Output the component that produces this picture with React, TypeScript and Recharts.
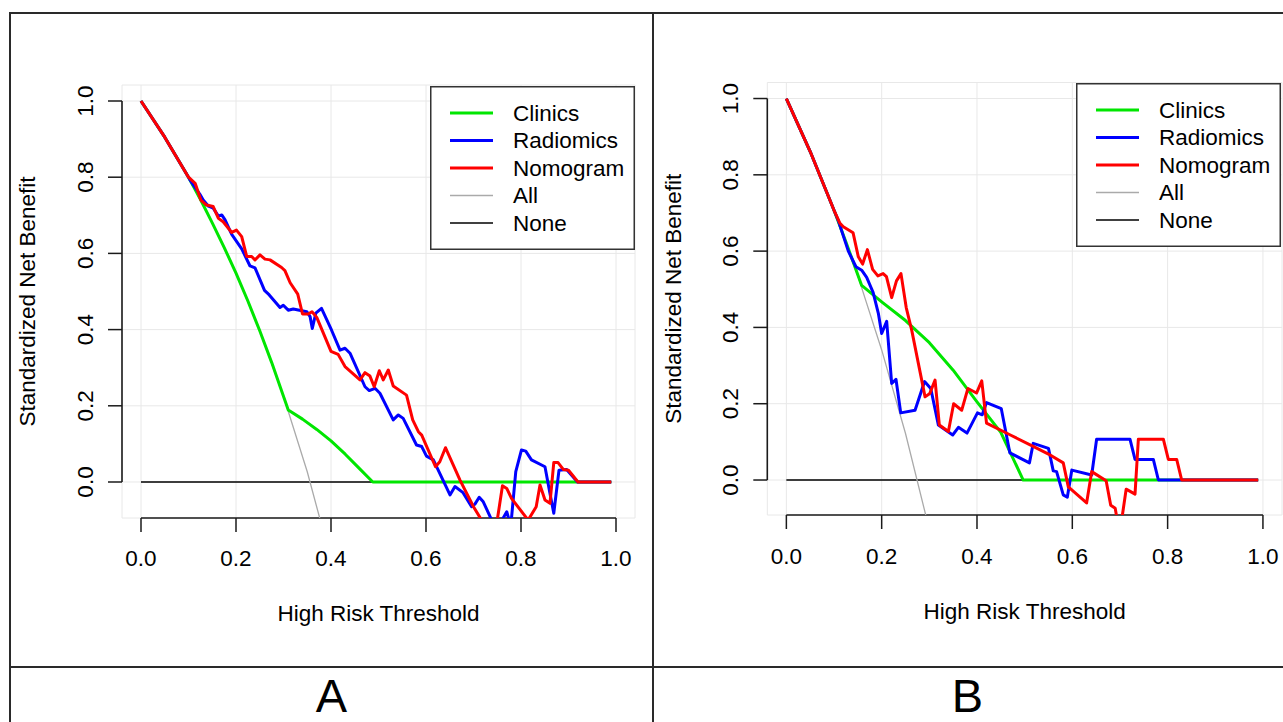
import React from "react";
import {
  CartesianGrid,
  Label,
  Legend,
  Line,
  LineChart,
  ReferenceLine,
  XAxis,
  YAxis,
} from "recharts";

type Pt = readonly [number, number];

const xTicks = [0, 0.2, 0.4, 0.6, 0.8, 1];
const yTicks = [0, 0.2, 0.4, 0.6, 0.8, 1];
const seriesNames = ["Clinics", "Radiomics", "Nomogram", "All", "None"];
const panelLabels = ["A", "B"];

// ---- panel A (threshold, standardized net benefit) ----
const allA: Pt[] = [
  [0, 1], [0.05, 0.905], [0.1, 0.8], [0.15, 0.68], [0.2, 0.548],
  [0.25, 0.397], [0.3, 0.225], [0.35, 0.027], [0.4, -0.205],
];
const noneA: Pt[] = [[0, 0], [0.99, 0]];
const clinicsA: Pt[] = [
  [0, 1], [0.05, 0.905], [0.1, 0.8], [0.125, 0.742], [0.15, 0.68],
  [0.175, 0.616], [0.2, 0.548], [0.225, 0.475], [0.25, 0.397], [0.275, 0.314],
  [0.31, 0.189], [0.34, 0.165], [0.37, 0.138], [0.4, 0.108], [0.43, 0.073],
  [0.46, 0.035], [0.488, 0], [0.99, 0],
];
const radiomicsA: Pt[] = [
  [0, 1], [0.05, 0.905], [0.1, 0.8], [0.103, 0.793], [0.124, 0.755],
  [0.131, 0.74], [0.142, 0.724], [0.152, 0.719], [0.163, 0.698], [0.17, 0.701],
  [0.177, 0.688], [0.191, 0.65], [0.212, 0.612], [0.2295, 0.567], [0.24, 0.562],
  [0.26, 0.503], [0.27, 0.491], [0.2926, 0.458], [0.2996, 0.464], [0.31, 0.451],
  [0.3206, 0.454], [0.349, 0.447], [0.356, 0.434], [0.3606, 0.403], [0.368, 0.443],
  [0.38, 0.456], [0.401, 0.399], [0.419, 0.346], [0.4295, 0.351], [0.44, 0.338],
  [0.4716, 0.25], [0.4806, 0.24], [0.4926, 0.246], [0.503, 0.233], [0.531, 0.163],
  [0.5417, 0.176], [0.552, 0.167], [0.58, 0.097], [0.591, 0.093], [0.601, 0.068],
  [0.6155, 0.058], [0.6505, -0.034], [0.661, -0.012], [0.678, -0.028], [0.696, -0.065],
  [0.703, -0.058], [0.712, -0.04], [0.7206, -0.052], [0.742, -0.11], [0.76, -0.1],
  [0.77, -0.078], [0.775, -0.1], [0.78, -0.095], [0.789, 0.027], [0.801, 0.084],
  [0.81, 0.081], [0.822, 0.058], [0.8505, 0.04], [0.861, -0.03], [0.869, -0.082],
  [0.88, 0.031], [0.896, 0.033], [0.919, 0], [0.99, 0],
];
const nomogramA: Pt[] = [
  [0, 1], [0.05, 0.905], [0.1, 0.8], [0.114, 0.784], [0.126, 0.74],
  [0.138, 0.727], [0.152, 0.723], [0.163, 0.692], [0.173, 0.683], [0.191, 0.655],
  [0.201, 0.661], [0.212, 0.644], [0.2225, 0.592], [0.233, 0.592], [0.24, 0.583],
  [0.2505, 0.596], [0.261, 0.585], [0.2716, 0.583], [0.296, 0.563], [0.303, 0.555],
  [0.314, 0.523], [0.33, 0.493], [0.34, 0.441], [0.352, 0.441], [0.36, 0.447],
  [0.37, 0.432], [0.4, 0.343], [0.415, 0.335], [0.4295, 0.303], [0.461, 0.268],
  [0.4716, 0.287], [0.482, 0.278], [0.491, 0.25], [0.5017, 0.292], [0.51, 0.268],
  [0.5206, 0.294], [0.531, 0.252], [0.559, 0.228], [0.572, 0.163], [0.584, 0.132],
  [0.591, 0.123], [0.62, 0.04], [0.629, 0.053], [0.641, 0.09], [0.6716, 0.005],
  [0.7, -0.065], [0.717, -0.1], [0.735, -0.13], [0.75, -0.1], [0.761, -0.01],
  [0.77, -0.017], [0.78, -0.043], [0.815, -0.1], [0.832, -0.065], [0.84, -0.008],
  [0.8505, -0.047], [0.861, -0.056], [0.869, 0.051], [0.878, 0.051], [0.889, 0.033],
  [0.9, 0.031], [0.92, 0], [0.99, 0],
];

// ---- panel B ----
const allB: Pt[] = [
  [0, 1], [0.05, 0.861], [0.1, 0.707], [0.15, 0.535], [0.2, 0.341],
  [0.25, 0.122], [0.3, -0.13],
];
const noneB: Pt[] = [[0, 0], [0.99, 0]];
const clinicsB: Pt[] = [
  [0, 1], [0.05, 0.861], [0.1, 0.707], [0.125, 0.624], [0.158, 0.51],
  [0.2, 0.467], [0.25, 0.418], [0.3, 0.36], [0.35, 0.288], [0.4, 0.205],
  [0.45, 0.125], [0.497, 0], [0.99, 0],
];
const radiomicsB: Pt[] = [
  [0, 1], [0.05, 0.861], [0.1, 0.707], [0.109, 0.68], [0.13, 0.6],
  [0.146, 0.559], [0.158, 0.55], [0.1685, 0.531], [0.182, 0.492], [0.193, 0.437],
  [0.2, 0.384], [0.2105, 0.416], [0.221, 0.253], [0.23, 0.264], [0.24, 0.176],
  [0.27, 0.183], [0.29, 0.258], [0.303, 0.24], [0.319, 0.144], [0.349, 0.118],
  [0.361, 0.138], [0.379, 0.123], [0.401, 0.176], [0.411, 0.171], [0.42, 0.203],
  [0.451, 0.187], [0.469, 0.071], [0.51, 0.045], [0.518, 0.096], [0.55, 0.083],
  [0.56, 0.024], [0.567, 0.022], [0.581, -0.039], [0.5895, -0.045], [0.599, 0.026],
  [0.6407, 0.013], [0.651, 0.107], [0.721, 0.107], [0.7316, 0.054], [0.77, 0.054],
  [0.7806, 0], [0.99, 0],
];
const nomogramB: Pt[] = [
  [0, 1], [0.05, 0.861], [0.1, 0.707], [0.1125, 0.673], [0.1195, 0.664],
  [0.14, 0.648], [0.151, 0.585], [0.16, 0.566], [0.17, 0.604], [0.181, 0.552],
  [0.192, 0.535], [0.203, 0.541], [0.21, 0.533], [0.221, 0.478], [0.231, 0.522],
  [0.2405, 0.541], [0.2515, 0.452], [0.263, 0.393], [0.291, 0.218], [0.301, 0.227],
  [0.312, 0.262], [0.321, 0.144], [0.34, 0.127], [0.351, 0.2], [0.368, 0.183],
  [0.381, 0.24], [0.399, 0.228], [0.41, 0.26], [0.42, 0.149], [0.47, 0.118],
  [0.52, 0.087], [0.55, 0.068], [0.581, 0.045], [0.5916, -0.018], [0.63, -0.06],
  [0.6407, 0.022], [0.671, -0.002], [0.6806, -0.066], [0.69, -0.074], [0.695, -0.11],
  [0.703, -0.11], [0.713, -0.024], [0.7316, -0.037], [0.7386, 0.107], [0.791, 0.107],
  [0.8015, 0.054], [0.819, 0.054], [0.8295, 0], [0.99, 0],
];

const FONT = '"Liberation Sans", Arial, Helvetica, sans-serif';
const FS = 22.5;
const AXIS = "#1a1a1a";
const CHART_H = 667;
const Y_AXIS_W = 60;
const X_AXIS_H = 60;

const seriesColors = ["#00e600", "#0000ff", "#ff0000", "#aaaaaa", "#000000"];
const seriesWidths = [3, 3, 3, 1.3, 1.6];

interface Series {
  readonly clinics: Pt[];
  readonly radiomics: Pt[];
  readonly nomogram: Pt[];
  readonly all: Pt[];
  readonly none: Pt[];
}

interface PanelSpec {
  readonly left: number;
  readonly width: number;
  readonly margin: { top: number; right: number; bottom: number; left: number };
  readonly yMin: number;
  readonly yMax: number;
  readonly tickMarginX: number;
  readonly xTitleY: number;
  readonly yTitleX: number;
  readonly legendLeft: number;
  readonly legendTop: number;
  readonly series: Series;
}

const panels: PanelSpec[] = [
  {
    left: 0,
    width: 653,
    margin: { top: 85, right: 18, bottom: 89, left: 62 },
    yMin: -0.0945,
    yMax: 1.042,
    tickMarginX: 18,
    xTitleY: 621,
    yTitleX: 35,
    legendLeft: 430,
    legendTop: 86,
    series: { clinics: clinicsA, radiomics: radiomicsA, nomogram: nomogramA, all: allA, none: noneA },
  },
  {
    left: 653,
    width: 630,
    margin: { top: 82.5, right: 1, bottom: 92, left: 54.3 },
    yMin: -0.0917,
    yMax: 1.042,
    tickMarginX: 19,
    xTitleY: 619,
    yTitleX: 28,
    legendLeft: 423,
    legendTop: 83,
    series: { clinics: clinicsB, radiomics: radiomicsB, nomogram: nomogramB, all: allB, none: noneB },
  },
];

const toData = (pts: Pt[]) => pts.map(([x, y]) => ({ x, y }));
const fmt = (v: number) => v.toFixed(1);

function YTick(props: any) {
  const { x, y, payload } = props;
  return (
    <text
      x={x}
      y={y}
      transform={`rotate(-90 ${x} ${y})`}
      textAnchor="middle"
      fill="#000"
      fontSize={FS}
      fontFamily={FONT}
    >
      {fmt(Number(payload.value))}
    </text>
  );
}

function LegendBox() {
  return (
    <svg width={205} height={164} style={{ display: "block", background: "#fff" }}>
      <rect x={0.75} y={0.75} width={203.5} height={162.5} fill="#fff" stroke="#333" strokeWidth={1.5} />
      {seriesNames.map((name, i) => {
        const cy = 27 + i * 27.5;
        return (
          <g key={name}>
            <line x1={20} x2={63} y1={cy} y2={cy} stroke={seriesColors[i]} strokeWidth={seriesWidths[i]} />
            <text x={83} y={cy} dominantBaseline="central" fontSize={FS} fontFamily={FONT} fill="#000">
              {name}
            </text>
          </g>
        );
      })}
    </svg>
  );
}

function Panel({ spec }: { spec: PanelSpec }) {
  const { series } = spec;
  const lines: [string, Pt[], number][] = [
    ["None", series.none, 4],
    ["All", series.all, 3],
    ["Clinics", series.clinics, 0],
    ["Radiomics", series.radiomics, 1],
    ["Nomogram", series.nomogram, 2],
  ];
  return (
    <div style={{ position: "absolute", left: spec.left, top: 0 }}>
      <LineChart width={spec.width} height={CHART_H} margin={spec.margin}>
        <CartesianGrid stroke="#e8e8e8" strokeWidth={1} />
        <XAxis
          type="number"
          dataKey="x"
          domain={[-0.04, 1.04]}
          allowDataOverflow
          ticks={xTicks}
          interval={0}
          tickFormatter={fmt}
          axisLine={false}
          stroke={AXIS}
          tickLine={{ stroke: AXIS, strokeWidth: 1.5 }}
          tickSize={14}
          tickMargin={spec.tickMarginX}
          height={X_AXIS_H}
          tick={{ fill: "#000", fontSize: FS, fontFamily: FONT }}
          label={
            <Label
              content={(p: any) => {
                const vb = p.viewBox ?? {};
                const cx = (vb.x ?? 0) + (vb.width ?? 0) / 2;
                return (
                  <text x={cx} y={spec.xTitleY} textAnchor="middle" fontSize={FS} fontFamily={FONT} fill="#000">
                    High Risk Threshold
                  </text>
                );
              }}
            />
          }
        />
        <YAxis
          type="number"
          domain={[spec.yMin, spec.yMax]}
          allowDataOverflow
          ticks={yTicks}
          interval={0}
          axisLine={false}
          stroke={AXIS}
          tickLine={{ stroke: AXIS, strokeWidth: 1.5 }}
          tickSize={14}
          tickMargin={15}
          width={Y_AXIS_W}
          tick={<YTick />}
          label={
            <Label
              content={(p: any) => {
                const vb = p.viewBox ?? {};
                const cy = (vb.y ?? 0) + (vb.height ?? 0) / 2;
                const cx = spec.yTitleX;
                return (
                  <text
                    x={cx}
                    y={cy}
                    transform={`rotate(-90 ${cx} ${cy})`}
                    textAnchor="middle"
                    fontSize={FS}
                    fontFamily={FONT}
                    fill="#000"
                  >
                    Standardized Net Benefit
                  </text>
                );
              }}
            />
          }
        />
        <ReferenceLine
          segment={[{ x: 0, y: spec.yMin }, { x: 1, y: spec.yMin }]}
          stroke={AXIS}
          strokeWidth={1.6}
          ifOverflow="visible"
        />
        <ReferenceLine
          segment={[{ x: -0.04, y: 0 }, { x: -0.04, y: 1 }]}
          stroke={AXIS}
          strokeWidth={1.6}
          ifOverflow="visible"
        />
        {lines.map(([name, pts, ci]) => (
          <Line
            key={name}
            name={name}
            data={toData(pts)}
            dataKey="y"
            type="linear"
            stroke={seriesColors[ci]}
            strokeWidth={seriesWidths[ci]}
            strokeLinejoin="round"
            dot={false}
            activeDot={false}
            isAnimationActive={false}
          />
        ))}
        <Legend
          layout="horizontal"
          verticalAlign="middle"
          align="center"
          content={() => <LegendBox />}
          wrapperStyle={{ left: spec.legendLeft, top: spec.legendTop, width: 205, height: 164 }}
        />
      </LineChart>
    </div>
  );
}

const borderColor = "#2a2a2a";

export default function App() {
  return (
    <div
      style={{
        position: "absolute",
        left: 0,
        top: 0,
        width: 1283,
        height: 722,
        overflow: "hidden",
        background: "#fff",
      }}
    >
      {panels.map((p, i) => (
        <Panel key={i} spec={p} />
      ))}
      {/* table frame */}
      <div style={{ position: "absolute", left: 10, top: 12, width: 1273, height: 2, background: borderColor }} />
      <div style={{ position: "absolute", left: 10, top: 666, width: 1273, height: 2, background: borderColor }} />
      <div style={{ position: "absolute", left: 9, top: 12, width: 2, height: 710, background: borderColor }} />
      <div style={{ position: "absolute", left: 652, top: 12, width: 2, height: 710, background: borderColor }} />
      {panelLabels.map((t, i) => (
        <div
          key={t}
          style={{
            position: "absolute",
            left: i === 0 ? 10 : 653,
            width: i === 0 ? 643 : 629,
            top: 669.5,
            height: 52,
            textAlign: "center",
            fontFamily: FONT,
            fontSize: 47,
            lineHeight: "52px",
            color: "#000",
          }}
        >
          {t}
        </div>
      ))}
    </div>
  );
}
